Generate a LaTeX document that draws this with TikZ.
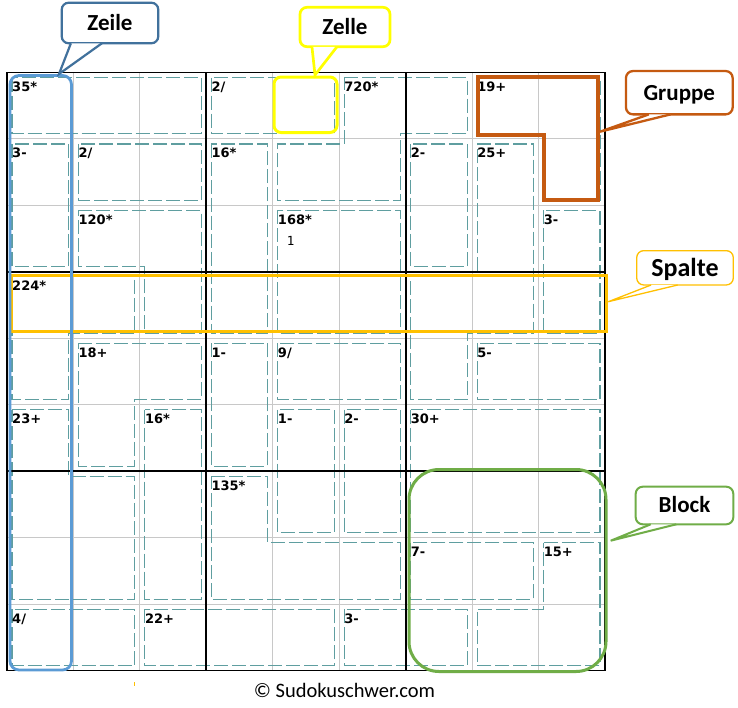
\documentclass[tikz,border=0pt]{standalone}
\usepackage{fontspec}
\setmainfont{Carlito}
\newfontfamily\cluefont{DejaVu Sans}
\newfontfamily\pencilfont{DejaVu Sans Mono}
\usetikzlibrary{calc}
\definecolor{cageC}{HTML}{5F9EA0}
\definecolor{gridC}{HTML}{C8C8C8}
\definecolor{zeileC}{HTML}{5B9BD5}
\definecolor{zeileCall}{HTML}{41719C}
\definecolor{zelleC}{HTML}{FFFF00}
\definecolor{gruppeC}{HTML}{C55A11}
\definecolor{spalteC}{HTML}{FFC000}
\definecolor{blockC}{HTML}{70AD47}
\begin{document}
\begin{tikzpicture}[x=1pt,y=-1pt,
  cage/.style={draw=cageC, line width=1.1pt, dash pattern=on 14pt off 4pt},
  clue/.style={anchor=base west, inner sep=0pt, font=\cluefont\bfseries\fontsize{13}{13}\selectfont},
  callbox/.style={draw, fill=white, rounded corners=7pt, inner sep=0pt, text height=14.8pt, text depth=0pt, font=\bfseries\fontsize{23}{23}\selectfont},
  ptr/.style={fill=white, line join=miter}
]
\useasboundingbox (0,0) rectangle (738,707);
\fill[white] (0,0) rectangle (738,707);

\begin{scope}[shift={(7,72.5)}, x=66.444pt, y=-66.444pt]
 \def\cgin{0.0753}
 % thin grid
 \foreach \i in {1,2,4,5,7,8} {
   \draw[gridC, line width=0.9pt] (\i,0) -- (\i,9);
   \draw[gridC, line width=0.9pt] (0,\i) -- (9,\i);
 }
 % cages
 \draw[cage] (0+\cgin,0+\cgin) rectangle (3-\cgin,1-\cgin);
 \draw[cage] (3+\cgin,0+\cgin) rectangle (5-\cgin,1-\cgin);
 \draw[cage] (5+\cgin,0+\cgin) -- (7-\cgin,0+\cgin) -- (7-\cgin,1-\cgin) -- (6-\cgin,1-\cgin) -- (6-\cgin,2-\cgin) -- (4+\cgin,2-\cgin) -- (4+\cgin,1+\cgin) -- (5+\cgin,1+\cgin) -- cycle;
 \draw[cage] (7+\cgin,0+\cgin) -- (9-\cgin,0+\cgin) -- (9-\cgin,2-\cgin) -- (8+\cgin,2-\cgin) -- (8+\cgin,1-\cgin) -- (7+\cgin,1-\cgin) -- cycle;
 \draw[cage] (0+\cgin,1+\cgin) rectangle (1-\cgin,3-\cgin);
 \draw[cage] (1+\cgin,1+\cgin) rectangle (3-\cgin,2-\cgin);
 \draw[cage] (3+\cgin,1+\cgin) rectangle (4-\cgin,4-\cgin);
 \draw[cage] (6+\cgin,1+\cgin) rectangle (7-\cgin,3-\cgin);
 \draw[cage] (7+\cgin,1+\cgin) -- (8-\cgin,1+\cgin) -- (8-\cgin,4-\cgin) -- (7-\cgin,4-\cgin) -- (7-\cgin,5-\cgin) -- (6+\cgin,5-\cgin) -- (6+\cgin,3+\cgin) -- (7+\cgin,3+\cgin) -- cycle;
 \draw[cage] (1+\cgin,2+\cgin) -- (3-\cgin,2+\cgin) -- (3-\cgin,4-\cgin) -- (2+\cgin,4-\cgin) -- (2+\cgin,3-\cgin) -- (1+\cgin,3-\cgin) -- cycle;
 \draw[cage] (4+\cgin,2+\cgin) rectangle (6-\cgin,4-\cgin);
 \draw[cage] (8+\cgin,2+\cgin) rectangle (9-\cgin,4-\cgin);
 \draw[cage] (0+\cgin,3+\cgin) -- (2-\cgin,3+\cgin) -- (2-\cgin,4-\cgin) -- (1-\cgin,4-\cgin) -- (1-\cgin,5-\cgin) -- (0+\cgin,5-\cgin) -- cycle;
 \draw[cage] (1+\cgin,4+\cgin) -- (3-\cgin,4+\cgin) -- (3-\cgin,5-\cgin) -- (2-\cgin,5-\cgin) -- (2-\cgin,6-\cgin) -- (1+\cgin,6-\cgin) -- cycle;
 \draw[cage] (3+\cgin,4+\cgin) rectangle (4-\cgin,6-\cgin);
 \draw[cage] (4+\cgin,4+\cgin) rectangle (6-\cgin,5-\cgin);
 \draw[cage] (7+\cgin,4+\cgin) rectangle (9-\cgin,5-\cgin);
 \draw[cage] (0+\cgin,5+\cgin) -- (1-\cgin,5+\cgin) -- (1-\cgin,6+\cgin) -- (2-\cgin,6+\cgin) -- (2-\cgin,8-\cgin) -- (0+\cgin,8-\cgin) -- cycle;
 \draw[cage] (2+\cgin,5+\cgin) rectangle (3-\cgin,8-\cgin);
 \draw[cage] (4+\cgin,5+\cgin) rectangle (5-\cgin,7-\cgin);
 \draw[cage] (5+\cgin,5+\cgin) rectangle (6-\cgin,7-\cgin);
 \draw[cage] (6+\cgin,5+\cgin) rectangle (9-\cgin,7-\cgin);
 \draw[cage] (3+\cgin,6+\cgin) -- (4-\cgin,6+\cgin) -- (4-\cgin,7+\cgin) -- (6-\cgin,7+\cgin) -- (6-\cgin,8-\cgin) -- (3+\cgin,8-\cgin) -- cycle;
 \draw[cage] (6+\cgin,7+\cgin) rectangle (8-\cgin,8-\cgin);
 \draw[cage] (8+\cgin,7+\cgin) -- (9-\cgin,7+\cgin) -- (9-\cgin,9-\cgin) -- (7+\cgin,9-\cgin) -- (7+\cgin,8+\cgin) -- (8+\cgin,8+\cgin) -- cycle;
 \draw[cage] (0+\cgin,8+\cgin) rectangle (2-\cgin,9-\cgin);
 \draw[cage] (2+\cgin,8+\cgin) rectangle (5-\cgin,9-\cgin);
 \draw[cage] (5+\cgin,8+\cgin) rectangle (7-\cgin,9-\cgin);
 % thick grid
 \foreach \i in {3,6} {
   \draw[black, line width=1.9pt] (\i,0) -- (\i,9);
   \draw[black, line width=1.9pt] (0,\i) -- (9,\i);
 }
 \draw[black, line width=1.9pt] (0,0) rectangle (9,9);
 % clues
 \node[clue] (c1) at (0+\cgin,0.286) {35*};
 \node[clue] (c2) at (3+\cgin,0.286) {2/};
 \node[clue] (c3) at (5+\cgin,0.286) {720*};
 \node[clue] (c4) at (7+\cgin,0.286) {19+};
 \node[clue] (c5) at (0+\cgin,1.286) {3-};
 \node[clue] (c6) at (1+\cgin,1.286) {2/};
 \node[clue] (c7) at (3+\cgin,1.286) {16*};
 \node[clue] (c8) at (6+\cgin,1.286) {2-};
 \node[clue] (c9) at (7+\cgin,1.286) {25+};
 \node[clue] (c10) at (1+\cgin,2.286) {120*};
 \node[clue] (c11) at (4+\cgin,2.286) {168*};
 \node[clue] (c12) at (8+\cgin,2.286) {3-};
 \node[clue] (c13) at (0+\cgin,3.286) {224*};
 \node[clue] (c14) at (1+\cgin,4.286) {18+};
 \node[clue] (c15) at (3+\cgin,4.286) {1-};
 \node[clue] (c16) at (4+\cgin,4.286) {9/};
 \node[clue] (c17) at (7+\cgin,4.286) {5-};
 \node[clue] (c18) at (0+\cgin,5.286) {23+};
 \node[clue] (c19) at (2+\cgin,5.286) {16*};
 \node[clue] (c20) at (4+\cgin,5.286) {1-};
 \node[clue] (c21) at (5+\cgin,5.286) {2-};
 \node[clue] (c22) at (6+\cgin,5.286) {30+};
 \node[clue] (c23) at (3+\cgin,6.286) {135*};
 \node[clue] (c24) at (6+\cgin,7.286) {7-};
 \node[clue] (c25) at (8+\cgin,7.286) {15+};
 \node[clue] (c26) at (0+\cgin,8.286) {4/};
 \node[clue] (c27) at (2+\cgin,8.286) {22+};
 \node[clue] (c28) at (5+\cgin,8.286) {3-};
 \node[inner sep=0pt, font=\pencilfont\fontsize{12.5}{12.5}\selectfont] (pm) at (4.267,2.528) {1};
\end{scope}

% highlights
\draw[spalteC, line width=3pt] (11,275) rectangle (606,331);
\draw[zeileC, line width=2.8pt, rounded corners=9pt] (10,75.5) rectangle (71.5,670);
\draw[zelleC, line width=3pt, rounded corners=7pt] (274,77) rectangle (337,132.5);
\draw[gruppeC, line width=3.3pt] (478,77) -- (598,77) -- (598,200) -- (544,200) -- (544,135) -- (478,135) -- cycle;
\draw[blockC, line width=3pt, rounded corners=30pt] (409,469.5) rectangle (606,671.5);
\draw[spalteC, line width=1pt] (134,682) -- (134,686);

% callouts
\node[callbox, draw=zeileCall, line width=2.2pt, minimum width=96.6pt, minimum height=40.6pt] (zeile) at (110,23) {Zeile};
\coordinate (zeileTip) at (59,74);
\draw[ptr, draw=zeileCall, line width=2.2pt] ($(zeile.south west)+(10.3,-1.1)$) -- (zeileTip) -- ($(zeile.south west)+(41.3,-1.1)$);

\node[callbox, draw=zelleC, line width=2.7pt, minimum width=90pt, minimum height=39.4pt] (zelle) at (345,27) {Zelle};
\coordinate (zelleTip) at (315,75);
\draw[ptr, draw=zelleC, line width=2.7pt] ($(zelle.south west)+(13.3,-1.3)$) -- (zelleTip) -- ($(zelle.south west)+(38.3,-1.3)$);

\node[callbox, draw=gruppeC, line width=2.3pt, minimum width=106.7pt, minimum height=43.3pt] (gruppe) at (679.3,92.7) {Gruppe};
\coordinate (gruppeTip) at (600,131.7);
\draw[ptr, draw=gruppeC, line width=2.3pt] ($(gruppe.south west)+(24,-1.1)$) -- (gruppeTip) -- ($(gruppe.south west)+(45.7,-1.1)$);

\node[callbox, draw=spalteC, line width=1.3pt, minimum width=96.6pt, minimum height=34.3pt, text height=16.7pt, font=\bfseries\fontsize{26}{26}\selectfont] (spalte) at (685,267.8) {Spalte};
\coordinate (spalteTip) at (608.3,301.7);
\draw[ptr, draw=spalteC, line width=1.3pt] ($(spalte.south west)+(15,-0.6)$) -- (spalteTip) -- ($(spalte.south west)+(41.6,-0.6)$);

\node[callbox, draw=blockC, line width=2pt, minimum width=97.6pt, minimum height=37.6pt] (block) at (684.5,505.5) {Block};
\coordinate (blockTip) at (610.7,540.7);
\draw[ptr, draw=blockC, line width=2pt] ($(block.south west)+(16,-1)$) -- (blockTip) -- ($(block.south west)+(41.6,-1)$);

\node[anchor=base, inner sep=0pt, font=\fontsize{20.5}{20.5}\selectfont] (copy) at (344.5,697) {© Sudokuschwer.com};
\end{tikzpicture}
\end{document}
